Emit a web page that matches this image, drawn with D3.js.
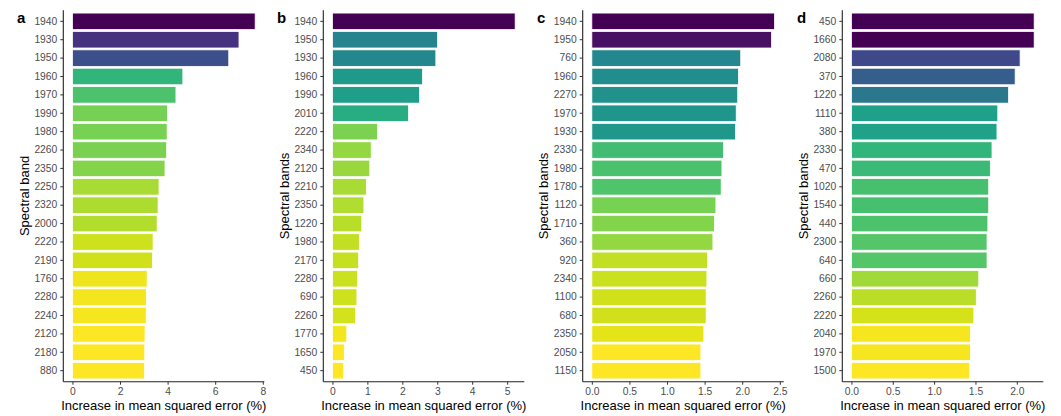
<!DOCTYPE html>
<html>
<head>
<meta charset="utf-8">
<script src="https://cdn.jsdelivr.net/npm/d3@7"></script>
<style>
  html, body { margin: 0; padding: 0; background: #fff; }
  svg { display: block; font-family: "Liberation Sans", Arial, Helvetica, sans-serif; }
</style>
</head>
<body>
<svg id="chart" width="1061" height="416"></svg>
<script>
// Band importance: increase in MSE (%) when each spectral band is permuted
const bandsA = ["1940","1930","1950","1960","1970","1990","1980","2260","2350","2250",
                "2320","2000","2220","2190","1760","2280","2240","2120","2180","880"];
const valuesA = [7.68,7.00,6.57,4.64,4.35,4.00,3.98,3.96,3.89,3.64,
                 3.60,3.56,3.39,3.36,3.14,3.11,3.10,3.05,3.04,3.03];

const bandsB = ["1940","1950","1930","1960","1990","2010","2220","2340","2120","2210",
                "2350","1220","1980","2170","2280","690","2260","1770","1650","450"];
const valuesB = [5.23,3.01,2.96,2.58,2.49,2.18,1.29,1.11,1.07,0.97,
                 0.90,0.84,0.77,0.75,0.72,0.70,0.66,0.41,0.34,0.32];

const bandsC = ["1940","1950","760","1960","2270","1970","1930","2330","1980","1780",
                "1120","1710","360","920","2340","1100","680","2350","2050","1150"];
const valuesC = [2.43,2.39,1.98,1.95,1.94,1.92,1.91,1.75,1.73,1.72,
                 1.65,1.63,1.61,1.54,1.53,1.52,1.52,1.49,1.45,1.45];

const bandsD = ["450","1660","2080","370","1220","1110","380","2330","470","1020",
                "1540","440","2300","640","660","2260","2220","2040","1970","1500"];
const valuesD = [2.21,2.21,2.04,1.98,1.90,1.77,1.76,1.70,1.68,1.66,
                 1.66,1.65,1.64,1.64,1.54,1.51,1.48,1.44,1.44,1.43];

const ticksA = [0, 2, 4, 6, 8];
const ticksB = [0, 1, 2, 3, 4, 5];
const ticksC = [0, 0.5, 1, 1.5, 2, 2.5];
const ticksD = [0, 0.5, 1, 1.5, 2];

const panelLetters = ["a", "b", "c", "d"];
const yTitles = ["Spectral band", "Spectral bands", "Spectral bands", "Spectral bands"];
const xTitle = "Increase in mean squared error (%)";

const panels = [
  { bands: bandsA, values: valuesA, ticks: ticksA, fmt: d3.format("d"),   left: 63.3,  titleX: 24,  letterX: 17 },
  { bands: bandsB, values: valuesB, ticks: ticksB, fmt: d3.format("d"),   left: 323.3, titleX: 284, letterX: 277 },
  { bands: bandsC, values: valuesC, ticks: ticksC, fmt: d3.format(".1f"), left: 582.7, titleX: 543, letterX: 537 },
  { bands: bandsD, values: valuesD, ticks: ticksD, fmt: d3.format(".1f"), left: 842.3, titleX: 803, letterX: 797 }
];

const svg = d3.select("#chart");
const plotW = 201;
const plotTop = 10.3, plotBottom = 381.7;
const labelColor = "#4d4d4d";

panels.forEach((p, i) => {
  const maxV = d3.max(p.values), minV = d3.min(p.values);
  const pad = maxV * 0.05;
  const x = d3.scaleLinear().domain([-pad, maxV + pad]).range([p.left, p.left + plotW]);

  // discrete axis with 0.6-step expansion at both ends
  const n = p.bands.length;
  const step = (plotBottom - plotTop) / (n - 1 + 1.2);
  const y = d3.scaleBand().domain(p.bands)
    .range([plotTop + 0.6 * step - step / 2, plotBottom - 0.6 * step + step / 2])
    .paddingInner(0.1).paddingOuter(0.05);

  const color = d3.scaleSequential(d3.interpolateViridis).domain([maxV, minV]);

  const g = svg.append("g");

  g.selectAll("rect.bar")
    .data(p.bands.map((b, k) => ({ band: b, value: p.values[k] })))
    .join("rect")
    .attr("class", "bar")
    .attr("x", x(0))
    .attr("y", d => y(d.band))
    .attr("width", d => x(d.value) - x(0))
    .attr("height", y.bandwidth())
    .attr("fill", d => color(d.value))
    .attr("stroke", "#ffffff")
    .attr("stroke-width", 0.8);

  // y axis
  const yAxis = g.append("g")
    .attr("transform", `translate(${p.left},0)`)
    .call(d3.axisLeft(y).tickSize(3).tickPadding(3).tickSizeOuter(0));
  yAxis.select(".domain").attr("d", `M0,${plotTop}V${plotBottom}`).attr("stroke", "#222").attr("stroke-width", 1.1);
  yAxis.selectAll(".tick line").attr("stroke", "#333");
  yAxis.selectAll(".tick text").attr("fill", labelColor).style("font-size", "10.3px");

  // x axis
  const xAxis = g.append("g")
    .attr("transform", `translate(0,${plotBottom})`)
    .call(d3.axisBottom(x).tickValues(p.ticks).tickFormat(p.fmt).tickSize(3).tickPadding(2.5).tickSizeOuter(0));
  xAxis.select(".domain").attr("d", `M${p.left},0H${p.left + plotW}`).attr("stroke", "#222").attr("stroke-width", 1.1);
  xAxis.selectAll(".tick line").attr("stroke", "#333");
  xAxis.selectAll(".tick text").attr("fill", labelColor).style("font-size", "10.3px");

  // axis titles
  g.append("text")
    .attr("x", p.left + plotW / 2)
    .attr("y", 410)
    .attr("text-anchor", "middle")
    .style("font-size", "13px")
    .attr("fill", "#000")
    .text(xTitle);

  g.append("text")
    .attr("transform", `translate(${p.titleX},${(plotTop + plotBottom) / 2}) rotate(-90)`)
    .attr("text-anchor", "middle")
    .attr("dy", "0.35em")
    .style("font-size", "13px")
    .attr("fill", "#000")
    .text(yTitles[i]);

  // panel letter
  g.append("text")
    .attr("x", p.letterX)
    .attr("y", 23)
    .style("font-size", "15px")
    .style("font-weight", "bold")
    .attr("fill", "#000")
    .text(panelLetters[i]);
});
</script>
</body>
</html>
